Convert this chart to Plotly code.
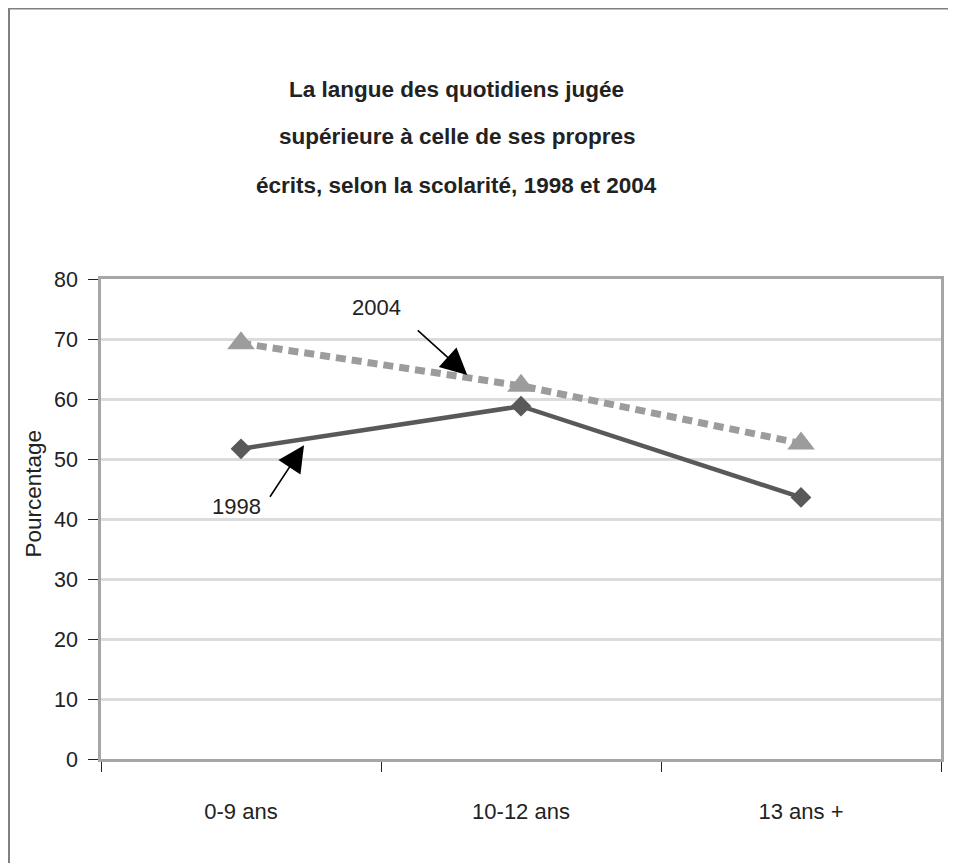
import plotly.graph_objects as go

categories = ["0-9 ans", "10-12 ans", "13 ans +"]
values_1998 = [51.7, 58.8, 43.6]
values_2004 = [69.3, 62.2, 52.6]
y_ticks = [0, 10, 20, 30, 40, 50, 60, 70, 80]
title_lines = [
    "La langue des quotidiens jugée",
    "supérieure à celle de ses propres",
    "écrits, selon la scolarité, 1998 et 2004",
]

OFF = 8  # browser default body margin
W, H = 956 - OFF, 863 - OFF
# plot area in page pixels
PL, PR, PT, PB = 101, 941, 279, 759
L, R, T, B = PL - OFF, PR - OFF, PT - OFF, PB - OFF

def px_x(p):
    return (p - PL) / (PR - PL)

def px_y(p):
    return (PB - p) / (PB - PT)

FONT = "Liberation Sans Narrow, Arial Narrow, Liberation Sans, Arial, sans-serif"
TXT = "#222222"

fig = go.Figure()
fig.add_trace(go.Scatter(
    x=categories, y=values_2004, mode="lines+markers", name="2004",
    line=dict(color="#9c9c9c", width=7, dash="10px,6px"),
    marker=dict(symbol="triangle-up", size=24, color="#9c9c9c"),
))
fig.add_trace(go.Scatter(
    x=categories, y=values_1998, mode="lines+markers", name="1998",
    line=dict(color="#595959", width=4.5),
    marker=dict(symbol="diamond", size=16, color="#595959"),
))

annotations = []
for i, t in enumerate(title_lines):
    annotations.append(dict(
        text=f"<b>{t}</b>", xref="paper", yref="paper",
        x=px_x(456.5), y=px_y(89 + 48 * i), xanchor="center", yanchor="middle",
        showarrow=False, font=dict(family=FONT, size=22.5, color=TXT),
    ))
annotations.append(dict(
    text="Pourcentage", xref="paper", yref="paper", x=px_x(32.5), y=px_y(494),
    xanchor="center", yanchor="middle", textangle=-90, showarrow=False,
    font=dict(family=FONT, size=22.5, color=TXT),
))
annotations.append(dict(
    text="2004", xref="paper", yref="paper", x=px_x(376), y=px_y(307),
    xanchor="center", yanchor="middle", showarrow=False,
    font=dict(family=FONT, size=22, color=TXT),
))
annotations.append(dict(
    text="", x=0.808, y=64.0, xref="x", yref="y", ax=-51, ay=-46,
    showarrow=True, arrowhead=2, arrowsize=3.3, arrowwidth=1.6, arrowcolor="#000000",
    standoff=0,
))
annotations.append(dict(
    text="1998", xref="paper", yref="paper", x=px_x(236), y=px_y(506),
    xanchor="center", yanchor="middle", showarrow=False,
    font=dict(family=FONT, size=22, color=TXT),
))
annotations.append(dict(
    text="", x=0.225, y=52.3, xref="x", yref="y", ax=-35, ay=53,
    showarrow=True, arrowhead=2, arrowsize=3.3, arrowwidth=1.6, arrowcolor="#000000",
    standoff=0,
))

fig.update_layout(
    width=W, height=H,
    margin=dict(l=L, r=W - R, t=T, b=H - B, pad=0),
    paper_bgcolor="white", plot_bgcolor="white",
    showlegend=False,
    annotations=annotations,
    shapes=[dict(type="rect", xref="paper", yref="paper",
                 x0=px_x(8.5), x1=px_x(1000), y0=px_y(900), y1=px_y(8),
                 line=dict(color="#808080", width=3), layer="below")],
    xaxis=dict(
        type="category", range=[-0.5, 2.5], tickson="boundaries",
        ticks="outside", ticklen=10, tickwidth=1, tickcolor=TXT,
        showline=True, linecolor="#a6a6a6", linewidth=3, mirror=True,
        showgrid=False, zeroline=False, ticklabelstandoff=31,
        tickfont=dict(family=FONT, size=22, color=TXT),
    ),
    yaxis=dict(
        range=[0, 80], tickvals=y_ticks, ticks="outside", ticklen=10, tickwidth=1,
        tickcolor=TXT, showline=True, linecolor="#a6a6a6", linewidth=2.5, mirror=True,
        showgrid=True, gridcolor="#dcdcdc", gridwidth=2.5, zeroline=False,
        ticklabelstandoff=6,
        tickfont=dict(family=FONT, size=21.5, color=TXT),
    ),
)

fig.write_html("out.html")
